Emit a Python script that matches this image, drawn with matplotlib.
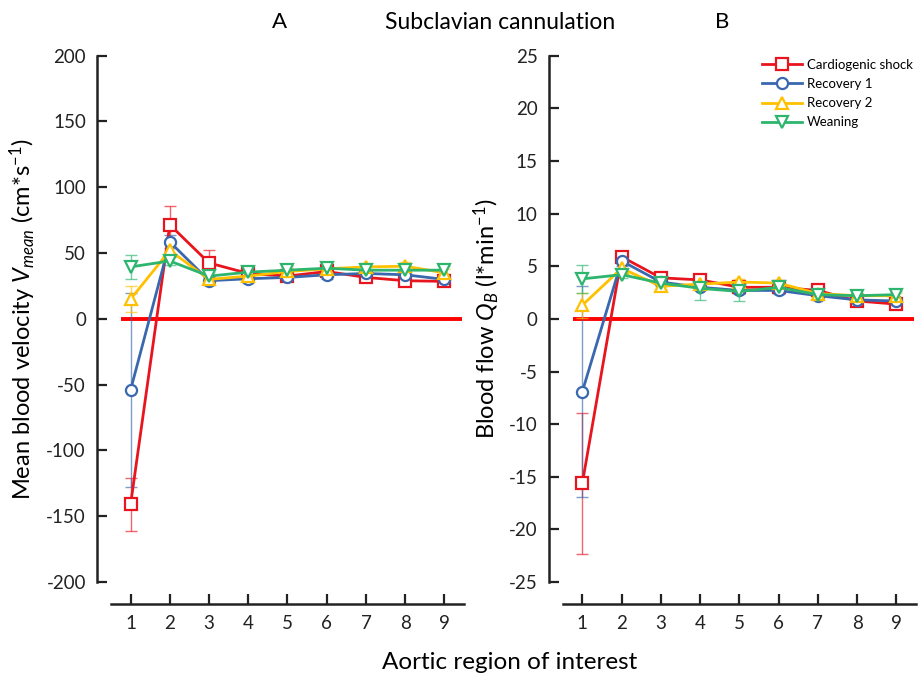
import matplotlib
matplotlib.use("Agg")
import matplotlib.pyplot as plt
from matplotlib.lines import Line2D

plt.rcParams['font.family'] = ['Lato', 'DejaVu Sans']
plt.rcParams['mathtext.fontset'] = 'custom'
plt.rcParams['mathtext.it'] = 'Lato:italic'
plt.rcParams['mathtext.rm'] = 'Lato'
plt.rcParams['axes.unicode_minus'] = False

regions = [1, 2, 3, 4, 5, 6, 7, 8, 9]
series_names = ["Cardiogenic shock", "Recovery 1", "Recovery 2", "Weaning"]

# Panel A: mean blood velocity (cm/s)
vel_shock = [-141, 71.5, 42.5, 34.5, 32.5, 36, 31.5, 29, 28.5]
vel_rec1 = [-54, 58.5, 29, 30.5, 31.5, 33.5, 34.5, 33.5, 30]
vel_rec2 = [15, 52, 30, 32.5, 36, 38, 39.5, 40, 35]
vel_wean = [39.5, 44, 32.5, 35.5, 37, 38.5, 37, 37, 37]
vel_shock_err = [20, 14, 10, 3, 3, 3, 3, 3, 3]
vel_rec1_err = [74, 5, 3, 3, 3, 3, 3, 3, 3]
vel_rec2_err = [10, 5, 3, 3, 3, 3, 3, 3, 3]
vel_wean_err = [9, 3, 3, 3, 3, 3, 3, 3, 3]

# Panel B: blood flow (l/min)
flow_shock = [-15.6, 5.9, 3.9, 3.7, 3.0, 3.0, 2.7, 1.7, 1.4]
flow_rec1 = [-6.9, 5.5, 3.5, 3.0, 2.7, 2.7, 2.2, 1.8, 1.7]
flow_rec2 = [1.3, 4.8, 3.1, 3.3, 3.5, 3.4, 2.4, 2.2, 2.2]
flow_wean = [3.8, 4.2, 3.4, 2.9, 2.6, 3.0, 2.3, 2.2, 2.3]
flow_shock_err = [6.7, 0.5, 0.3, 0.4, 0.3, 0.3, 0.6, 0.3, 0.3]
flow_rec1_err = [10, 0.5, 0.3, 0.3, 0.3, 0.3, 0.4, 0.3, 0.3]
flow_rec2_err = [1.2, 0.4, 0.3, 0.3, 0.3, 0.3, 0.3, 0.3, 0.3]
flow_wean_err = [1.3, 0.3, 0.3, 1.1, 0.9, 0.3, 0.4, 0.3, 0.3]

colors = ["#E8141E", "#3A68AE", "#FFC000", "#2DB56E"]
markers = ["s", "o", "^", "v"]

fig = plt.figure(figsize=(9.21, 6.76), dpi=100)
axA = fig.add_axes([0.1205, 0.139, 0.3833, 0.7786])
axB = fig.add_axes([0.611, 0.139, 0.3836, 0.7786])


def draw(ax, vals, errs, ylim, yticks):
    order = [1, 2, 3, 0]
    for i in order:
        ax.errorbar(regions, vals[i], yerr=errs[i], fmt='none', ecolor=colors[i],
                    elinewidth=1.0, capsize=4, capthick=1.0, alpha=0.65, zorder=2 + i * 0.1)
        ax.plot(regions, vals[i], color=colors[i], lw=2.0, marker=markers[i],
                markersize=8, markerfacecolor='white', markeredgecolor=colors[i],
                markeredgewidth=1.6, zorder=3 + i * 0.1)
    ax.hlines(0, 0.75, 9.45, color='#FF0000', lw=2.8, zorder=1)
    ax.set_xlim(0.5, 9.5)
    ax.set_ylim(*ylim)
    ax.set_yticks(yticks)
    ax.set_xticks(regions)
    for s in ['top', 'right']:
        ax.spines[s].set_visible(False)
    ax.spines['left'].set_position(('outward', 10))
    ax.spines['bottom'].set_position(('outward', 16))
    for s in ['left', 'bottom']:
        ax.spines[s].set_linewidth(1.8)
        ax.spines[s].set_color('#222222')
    ax.tick_params(axis='both', direction='in', length=7, width=1.6,
                   labelsize=13.5, colors='#222222')
    ax.tick_params(axis='y', pad=8)
    ax.tick_params(axis='x', pad=8)


draw(axA, [vel_shock, vel_rec1, vel_rec2, vel_wean],
     [vel_shock_err, vel_rec1_err, vel_rec2_err, vel_wean_err],
     (-200, 200), list(range(-200, 201, 50)))
draw(axB, [flow_shock, flow_rec1, flow_rec2, flow_wean],
     [flow_shock_err, flow_rec1_err, flow_rec2_err, flow_wean_err],
     (-25, 25), list(range(-25, 26, 5)))

axA.set_ylabel(r"Mean blood velocity $V_{mean}$ (cm*s$^{\mathregular{-1}}$)", fontsize=17, labelpad=6)
axB.set_ylabel(r"Blood flow $Q_B$ (l*min$^{\mathregular{-1}}$)", fontsize=17, labelpad=6)

fig.text(0.5535, 0.02, "Aortic region of interest", ha='center', va='center', fontsize=17.5)
fig.text(0.303, 0.967, "A", ha='center', va='center', fontsize=16)
fig.text(0.784, 0.967, "B", ha='center', va='center', fontsize=16)
fig.text(0.543, 0.967, "Subclavian cannulation", ha='center', va='center', fontsize=16.5)

handles = [Line2D([0], [0], color=colors[i], lw=2.0, marker=markers[i], markersize=8,
                  markerfacecolor='white', markeredgecolor=colors[i], markeredgewidth=1.6)
           for i in range(4)]
fig.legend(handles, series_names, loc='upper right', bbox_to_anchor=(1.0, 0.925),
           frameon=False, fontsize=9.5, handlelength=3.0, labelspacing=0.55,
           handletextpad=0.4, borderaxespad=0.2)

fig.savefig("out.png", dpi=100)
